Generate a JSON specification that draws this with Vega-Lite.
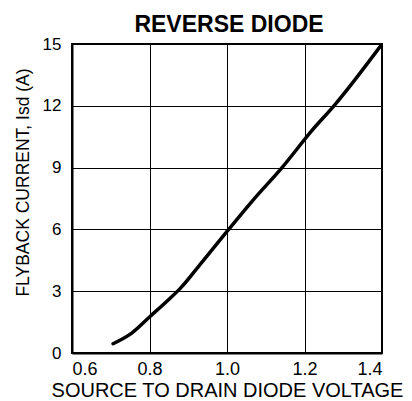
{
  "$schema": "https://vega.github.io/schema/vega-lite/v6.json",
  "width": 310,
  "height": 309,
  "autosize": {"type": "none"},
  "padding": {"left": 72, "top": 44, "right": 30, "bottom": 48},
  "background": "white",
  "config": {
    "font": "Liberation Sans",
    "view": {"stroke": "black", "strokeWidth": 2},
    "axis": {
      "domainColor": "black",
      "domainWidth": 2,
      "gridColor": "black",
      "gridWidth": 1,
      "gridOpacity": 1,
      "ticks": false,
      "labelColor": "black",
      "titleColor": "black",
      "labelFont": "Liberation Sans",
      "titleFont": "Liberation Sans",
      "titleFontWeight": "normal"
    }
  },
  "title": {
    "text": "REVERSE DIODE",
    "fontSize": 23,
    "fontWeight": "bold",
    "font": "Liberation Sans",
    "color": "black",
    "anchor": "middle",
    "baseline": "bottom",
    "offset": -25,
    "dx": 2
  },
  "data": {
    "values": [
      {"v": 0.706, "i": 0.45},
      {"v": 0.755, "i": 0.98},
      {"v": 0.800, "i": 1.75},
      {"v": 0.847, "i": 2.55},
      {"v": 0.880, "i": 3.15},
      {"v": 0.934, "i": 4.38},
      {"v": 1.000, "i": 5.90},
      {"v": 1.069, "i": 7.46},
      {"v": 1.142, "i": 9.00},
      {"v": 1.220, "i": 10.82},
      {"v": 1.276, "i": 12.00},
      {"v": 1.400, "i": 15.00}
    ]
  },
  "mark": {"type": "line", "color": "black", "strokeWidth": 3.5, "interpolate": "monotone", "strokeCap": "round", "clip": true},
  "encoding": {
    "x": {
      "field": "v",
      "type": "quantitative",
      "scale": {"domain": [0.6, 1.4], "nice": false, "zero": false},
      "axis": {
        "values": [0.6, 0.8, 1.0, 1.2, 1.4],
        "format": ".1f",
        "labelFontSize": 18,
        "labelPadding": 7,
        "title": "SOURCE TO DRAIN DIODE VOLTAGE",
        "titleFontSize": 20,
        "titlePadding": 2
      }
    },
    "y": {
      "field": "i",
      "type": "quantitative",
      "scale": {"domain": [0, 15], "nice": false},
      "axis": {
        "values": [0, 3, 6, 9, 12, 15],
        "labelFontSize": 17,
        "labelPadding": 11,
        "title": "FLYBACK CURRENT, Isd (A)",
        "titleFontSize": 17.5,
        "titlePadding": 10,
        "titleY": 138
      }
    }
  }
}
